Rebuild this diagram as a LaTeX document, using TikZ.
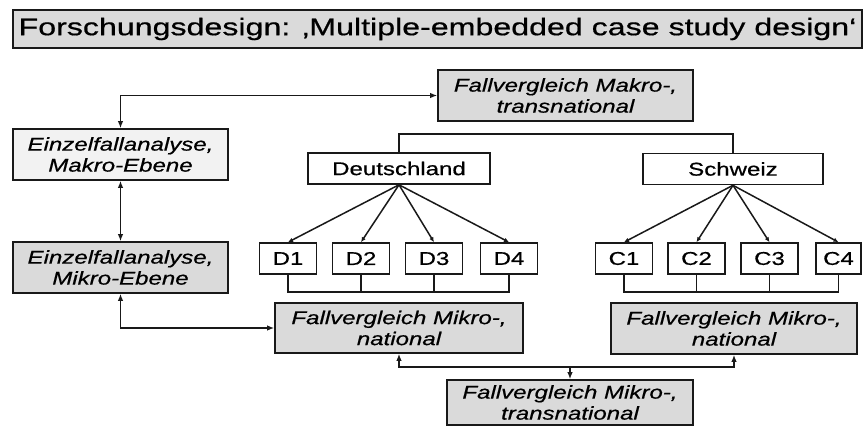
\documentclass[tikz,border=0pt]{standalone}
\usepackage{fontspec}
\setmainfont{Liberation Sans}[FakeStretch=1.3,FakeBold=0.6]
\newfontfamily\titlefont{Liberation Sans}[FakeStretch=1.34,FakeBold=0.6]
\usetikzlibrary{arrows.meta}
\definecolor{boxgray}{HTML}{DADADA}
\definecolor{boxlight}{HTML}{F2F2F2}
\tikzset{
  base/.style={draw=black!90, line width=1.6pt, inner sep=0pt, align=center, text=black},
  grayitem/.style={base, fill=boxgray, font=\fontsize{18.5}{21}\selectfont\itshape},
  lightitem/.style={base, fill=boxlight, font=\fontsize{18.5}{21}\selectfont\itshape},
  country/.style={base, fill=white, font=\fontsize{18.5}{21}\selectfont, minimum height=31pt},
  casebox/.style={base, fill=white, font=\fontsize{18.5}{21}\selectfont, minimum height=31pt, minimum width=57pt},
  conn/.style={draw=black!90, line width=1.5pt},
  tip/.style={-{Latex[length=7pt,width=5.5pt]}},
  dtip/.style={{Latex[length=7pt,width=5.5pt]}-{Latex[length=7pt,width=5.5pt]}},
  stip/.style={-{Latex[length=5pt,width=4.5pt]}}
}
\begin{document}
\begin{tikzpicture}[x=1pt,y=-1pt]
\useasboundingbox (0,0) rectangle (863,427);
% title
\node[base, fill=boxgray, minimum width=849pt, minimum height=38pt, font=\titlefont\fontsize{24}{28}\selectfont] (title) at (437.5,29) {Forschungsdesign: ‚Multiple-embedded case study design‘};
% left column
\node[lightitem, minimum width=215pt, minimum height=51pt] (ema) at (120.5,154.5) {Einzelfallanalyse,\\Makro-Ebene};
\node[grayitem, minimum width=215pt, minimum height=51pt] (emi) at (120.5,267.5) {Einzelfallanalyse,\\Mikro-Ebene};
% comparison boxes
\node[grayitem, minimum width=255pt, minimum height=51pt] (mt) at (565.5,95.5) {Fallvergleich Makro-,\\transnational};
\node[grayitem, minimum width=248pt, minimum height=50pt] (nde) at (399,328) {Fallvergleich Mikro-,\\national};
\node[grayitem, minimum width=246pt, minimum height=51pt] (nch) at (734,328.5) {Fallvergleich Mikro-,\\national};
\node[grayitem, minimum width=246pt, minimum height=45pt] (mit) at (570,402.5) {Fallvergleich Mikro-,\\transnational};
% countries
\node[country, minimum width=182pt] (de) at (399,168.5) {Deutschland};
\node[country, minimum width=180pt] (ch) at (733,169) {Schweiz};
% cases
\node[casebox] (d1) at (288,258.5) {D1};
\node[casebox] (d2) at (361,258.5) {D2};
\node[casebox] (d3) at (434,258.5) {D3};
\node[casebox] (d4) at (509,258.5) {D4};
\node[casebox] (c1) at (624,258.5) {C1};
\node[casebox] (c2) at (696.5,258.5) {C2};
\node[casebox] (c3) at (769.5,258.5) {C3};
\node[casebox, minimum width=45pt] (c4) at (838.5,258.5) {C4};
% connectors left
\draw[conn, dtip] (ema.north) |- (mt.west);
\draw[conn, dtip] (ema.south) -- (emi.north);
\draw[conn, dtip] (emi.south) |- (nde.west);
% bracket above countries
\coordinate (topbar) at (0,134);
\draw[conn] (de.north) -- (de.north |- topbar) -- (ch.north |- topbar) -- (ch.north);
% tree edges
\foreach \k in {d1,d2,d3,d4} \draw[conn, stip] (de.south) -- (\k.north);
\foreach \k in {c1,c2,c3,c4} \draw[conn, stip] (ch.south) -- (\k.north);
% brackets below cases
\coordinate (lowbar) at (0,292);
\draw[conn] (d1.south) -- (d1.south |- lowbar) -- (d4.south |- lowbar) -- (d4.south);
\draw[conn] (d2.south) -- (d2.south |- lowbar);
\draw[conn] (d3.south) -- (d3.south |- lowbar);
\draw[conn] (c1.south) -- (c1.south |- lowbar) -- (c4.south |- lowbar) -- (c4.south);
\draw[conn] (c2.south) -- (c2.south |- lowbar);
\draw[conn] (c3.south) -- (c3.south |- lowbar);
% bottom connector
\coordinate (botbar) at (0,367);
\draw[conn, dtip] (nde.south) -- (nde.south |- botbar) -- (nch.south |- botbar) -- (nch.south);
\draw[conn, tip] (mit.north |- botbar) -- (mit.north);
\end{tikzpicture}
\end{document}
